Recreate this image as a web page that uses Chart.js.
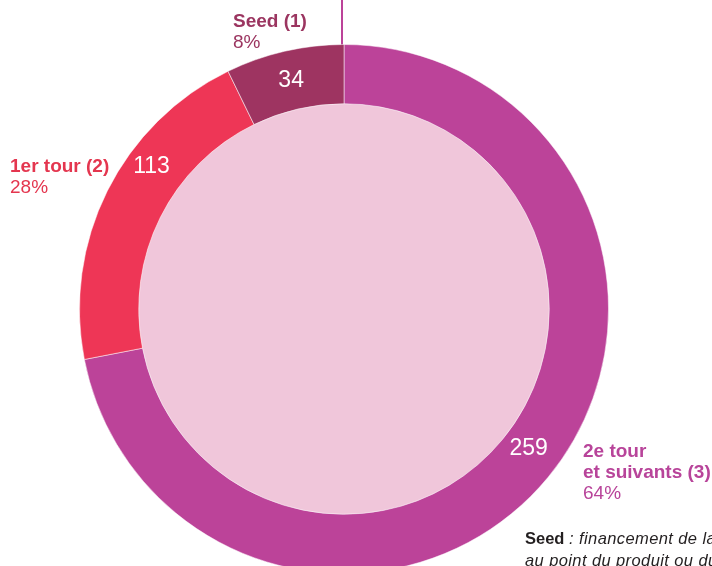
<!DOCTYPE html>
<html>
<head>
<meta charset="utf-8">
<script src="https://cdn.jsdelivr.net/npm/chart.js@4"></script>
<style>
  html, body { margin: 0; padding: 0; background: #fff; overflow: hidden; }
  body { width: 712px; height: 566px; position: relative; font-family: "Liberation Sans", Arial, sans-serif; }
  #wrap { position: absolute; left: 79px; top: 44px; width: 530px; height: 530px; }
  .lbl { position: absolute; font-size: 19px; line-height: 21px; white-space: nowrap; }
  .lbl b { font-weight: bold; }
  #stem { position: absolute; left: 341px; top: 0; width: 2px; height: 46px; background: #bc4399; }
  #note { position: absolute; left: 525px; top: 527px; font-size: 16.5px; line-height: 22px; color: #231f20; white-space: nowrap; }
  #note i { font-weight: 300; letter-spacing: 0.4px; }
</style>
</head>
<body>
<div id="stem"></div>
<div id="wrap"><canvas id="RoundsChart" width="530" height="530"></canvas></div>
<div class="lbl" id="lblSeed" style="left:233px; top:10px; color:#9b3560;"></div>
<div class="lbl" id="lblFirst" style="left:10px; top:155px; color:#e4364f;"></div>
<div class="lbl" id="lblNext" style="left:583px; top:440px; color:#b8449a;"></div>
<div id="note"><b>Seed</b> <i>: financement de la mise</i><br><i>au point du produit ou du service</i></div>
<script>
// Tours de financement
var categories = ['2e tour<br>et suivants (3)', '1er tour (2)', 'Seed (1)'];
var counts = [259, 113, 34];
var shares = ['64%', '28%', '8%'];
// arc sizes as drawn in the picture (degrees)
var arcDegrees = [259, 75, 26];

var colors = ['#bc4399', '#ee3656', '#9e3461'];

// outside labels
var lblIds = ['lblNext', 'lblFirst', 'lblSeed'];
lblIds.forEach(function(id, i) {
    document.getElementById(id).innerHTML = '<b>' + categories[i] + '</b><br>' + shares[i];
});

var innerFill = {
    id: 'innerFill',
    beforeDatasetsDraw: function(chart) {
        var arc = chart.getDatasetMeta(0).data[0];
        var c = chart.ctx;
        c.save();
        c.fillStyle = '#f0c6da';
        c.beginPath();
        c.arc(arc.x, arc.y, arc.innerRadius, 0, Math.PI * 2);
        c.fill();
        c.restore();
    }
};

var arcLabels = {
    id: 'arcLabels',
    afterDatasetsDraw: function(chart, args, opts) {
        var c = chart.ctx;
        var meta = chart.getDatasetMeta(0);
        c.save();
        c.fillStyle = '#fff';
        c.font = '23px "Liberation Sans", Arial, sans-serif';
        c.textAlign = 'center';
        c.textBaseline = 'middle';
        meta.data.forEach(function(arc, i) {
            var f = opts.along[i];
            var a = arc.startAngle + (arc.endAngle - arc.startAngle) * f;
            var r = (arc.innerRadius + arc.outerRadius) / 2 + opts.shift[i];
            c.fillText(String(counts[i]), arc.x + Math.cos(a) * r, arc.y + Math.sin(a) * r + 1);
        });
        c.restore();
    }
};

var ctx = document.getElementById('RoundsChart').getContext('2d');
var roundsChart = new Chart(ctx, {
    type: 'doughnut',
    data: {
        labels: categories,
        datasets: [{
            data: arcDegrees,
            backgroundColor: colors,
            borderColor: 'rgba(255,255,255,0.5)',
            borderWidth: 1
        }]
    },
    options: {
        responsive: false,
        animation: false,
        cutout: '77.6%',
        layout: { padding: 0 },
        plugins: {
            legend: { display: false },
            tooltip: { enabled: false },
            arcLabels: { along: [0.49, 0.635, 0.5], shift: [-4, 5, 0] }
        }
    },
    plugins: [innerFill, arcLabels]
});
</script>
</body>
</html>
